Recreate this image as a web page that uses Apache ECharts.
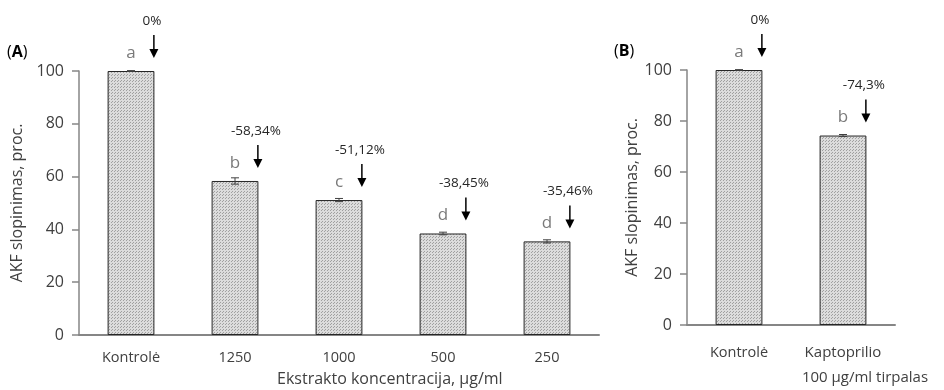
<!DOCTYPE html>
<html>
<head>
<meta charset="utf-8">
<script src="https://cdn.jsdelivr.net/npm/echarts@6/dist/echarts.min.js"></script>
<style>
  html, body { margin: 0; padding: 0; background: #fff; }
  #chart { width: 944px; height: 390px; }
</style>
</head>
<body>
<div id="chart"></div>
<script>
// Panel A: extract concentrations
const catsA = ['Kontrolė', '1250', '1000', '500', '250'];
const valsA = [100, 58.34, 51.12, 38.45, 35.46];
const errA = [0.15, 1.2, 0.6, 0.5, 0.6];
const lettersA = ['a', 'b', 'c', 'd', 'd'];
const changeA = ['0%', '-58,34%', '-51,12%', '-38,45%', '-35,46%'];

// Panel B: captopril reference
const catsB = ['Kontrolė', 'Kaptoprilio\n100 µg/ml tirpalas'];
const valsB = [100, 74.3];
const errB = [0.15, 0.4];
const lettersB = ['a', 'b'];
const changeB = ['0%', '-74,3%'];

const yTicks = { min: 0, max: 100, interval: 20 };

const FONT = '"Open Sans", "Noto Sans", sans-serif';
const AXIS_GRAY = '#868686';
const TEXT = '#404040';

// fine dotted fill for the bars
function dotPattern() {
  const c = document.createElement('canvas');
  c.width = 3; c.height = 3;
  const g = c.getContext('2d');
  g.fillStyle = '#dcdcdc';
  g.fillRect(0, 0, 3, 3);
  g.fillStyle = '#a0a0a0';
  g.fillRect(0, 0, 1, 1);
  g.fillRect(1, 2, 1, 1);
  return c;
}
const fill = { image: dotPattern(), repeat: 'repeat' };

function yAxisFor(gridIndex) {
  return {
    type: 'value', gridIndex,
    min: yTicks.min, max: yTicks.max, interval: yTicks.interval,
    name: 'AKF slopinimas, proc.',
    nameLocation: 'middle', nameGap: 46,
    nameTextStyle: { fontFamily: FONT, fontSize: 16, color: TEXT },
    axisLine: { show: true, lineStyle: { color: AXIS_GRAY, width: 1.5 } },
    axisTick: { show: true, length: 7, lineStyle: { color: AXIS_GRAY, width: 1.5 } },
    axisLabel: { fontFamily: FONT, fontSize: 16, color: TEXT, margin: 15 },
    splitLine: { show: false }
  };
}

function xAxisFor(gridIndex, cats, extra) {
  return Object.assign({
    type: 'category', gridIndex, data: cats,
    axisLine: { show: true, lineStyle: { color: AXIS_GRAY, width: 2 } },
    axisTick: { show: false },
    axisLabel: { fontFamily: FONT, fontSize: 14.5, color: TEXT, margin: 15, interval: 0 }
  }, extra || {});
}

function barSeries(idx, vals) {
  return {
    type: 'bar', xAxisIndex: idx, yAxisIndex: idx,
    data: vals, barWidth: '45%',
    itemStyle: { color: fill, borderColor: '#262626', borderWidth: 1 },
    silent: true, z: 2
  };
}

// error whiskers with caps
function errorSeries(idx, vals, errs) {
  return {
    type: 'custom', xAxisIndex: idx, yAxisIndex: idx, z: 3, silent: true,
    data: vals.map((v, i) => [i, v - errs[i], v + errs[i]]),
    renderItem(params, api) {
      const lo = api.coord([api.value(0), api.value(1)]);
      const hi = api.coord([api.value(0), api.value(2)]);
      const x = lo[0], cap = 4;
      const st = { stroke: '#404040', lineWidth: 1 };
      return {
        type: 'group',
        children: [
          { type: 'line', shape: { x1: x, y1: lo[1], x2: x, y2: hi[1] }, style: st },
          { type: 'line', shape: { x1: x - cap, y1: lo[1], x2: x + cap, y2: lo[1] }, style: st },
          { type: 'line', shape: { x1: x - cap, y1: hi[1], x2: x + cap, y2: hi[1] }, style: st }
        ]
      };
    }
  };
}

// significance letter, arrow and percentage change above each bar
function noteSeries(idx, vals, letters, changes) {
  return {
    type: 'custom', xAxisIndex: idx, yAxisIndex: idx, z: 4, silent: true,
    data: vals.map((v, i) => [i, v]),
    renderItem(params, api) {
      const i = params.dataIndex;
      const p = api.coord([api.value(0), api.value(1)]);
      const band = api.size([1, 0])[0];
      const ax = p[0] + band * 0.22;
      const tip = p[1] - 13, top = p[1] - 36;
      return {
        type: 'group',
        children: [
          { type: 'text', style: { x: p[0], y: p[1] - 18, text: letters[i], align: 'center', verticalAlign: 'middle',
              fontFamily: FONT, fontSize: 17, fill: '#7a7a7a' } },
          { type: 'line', shape: { x1: ax, y1: top, x2: ax, y2: tip - 8 }, style: { stroke: '#000', lineWidth: 1.5 } },
          { type: 'polygon', shape: { points: [[ax - 4.5, tip - 9], [ax + 4.5, tip - 9], [ax, tip]] }, style: { fill: '#000' } },
          { type: 'text', style: { x: ax - 2, y: p[1] - 50, text: changes[i], align: 'center', verticalAlign: 'middle',
              fontFamily: FONT, fontSize: 13.5, fill: '#262626' } }
        ]
      };
    }
  };
}

const chart = echarts.init(document.getElementById('chart'), null, { renderer: 'canvas' });

chart.setOption({
  backgroundColor: '#fff',
  animation: false,
  grid: [
    { left: 79, top: 71, width: 520, height: 264 },
    { left: 687, top: 70, width: 208, height: 263 }
  ],
  xAxis: [
    xAxisFor(0, catsA),
    xAxisFor(1, catsB, {
      axisLabel: {
        fontFamily: FONT, fontSize: 14.5, color: TEXT, margin: 15, interval: 0, lineHeight: 25,
        formatter(v) {
          const parts = v.split('\n');
          if (parts.length < 2) return v;
          return '{c|' + parts[0] + '}\n{pad|}{l|' + parts[1] + '}';
        },
        rich: {
          c: { align: 'center', fontFamily: FONT, fontSize: 15, color: TEXT, lineHeight: 25 },
          pad: { align: 'left', width: 44 },
          l: { align: 'left', fontFamily: FONT, fontSize: 15, color: TEXT, lineHeight: 25 }
        }
      }
    })
  ],
  yAxis: [yAxisFor(0), yAxisFor(1)],
  series: [
    barSeries(0, valsA), errorSeries(0, valsA, errA), noteSeries(0, valsA, lettersA, changeA),
    barSeries(1, valsB), errorSeries(1, valsB, errB), noteSeries(1, valsB, lettersB, changeB)
  ],
  graphic: [
    { type: 'text', left: 277, top: 371, style: { text: 'Ekstrakto koncentracija, µg/ml', fontFamily: FONT, fontSize: 16, fill: TEXT } },
    { type: 'text', left: 7, top: 44, style: { text: '{p|(}{b|A}{p|)}', rich: {
        p: { fontFamily: FONT, fontSize: 16, fill: '#000', fontWeight: 'normal' },
        b: { fontFamily: FONT, fontSize: 16, fill: '#000', fontWeight: 'bold' } } } },
    { type: 'text', left: 614, top: 43, style: { text: '{p|(}{b|B}{p|)}', rich: {
        p: { fontFamily: FONT, fontSize: 16, fill: '#000', fontWeight: 'normal' },
        b: { fontFamily: FONT, fontSize: 16, fill: '#000', fontWeight: 'bold' } } } }
  ]
});
</script>
</body>
</html>
